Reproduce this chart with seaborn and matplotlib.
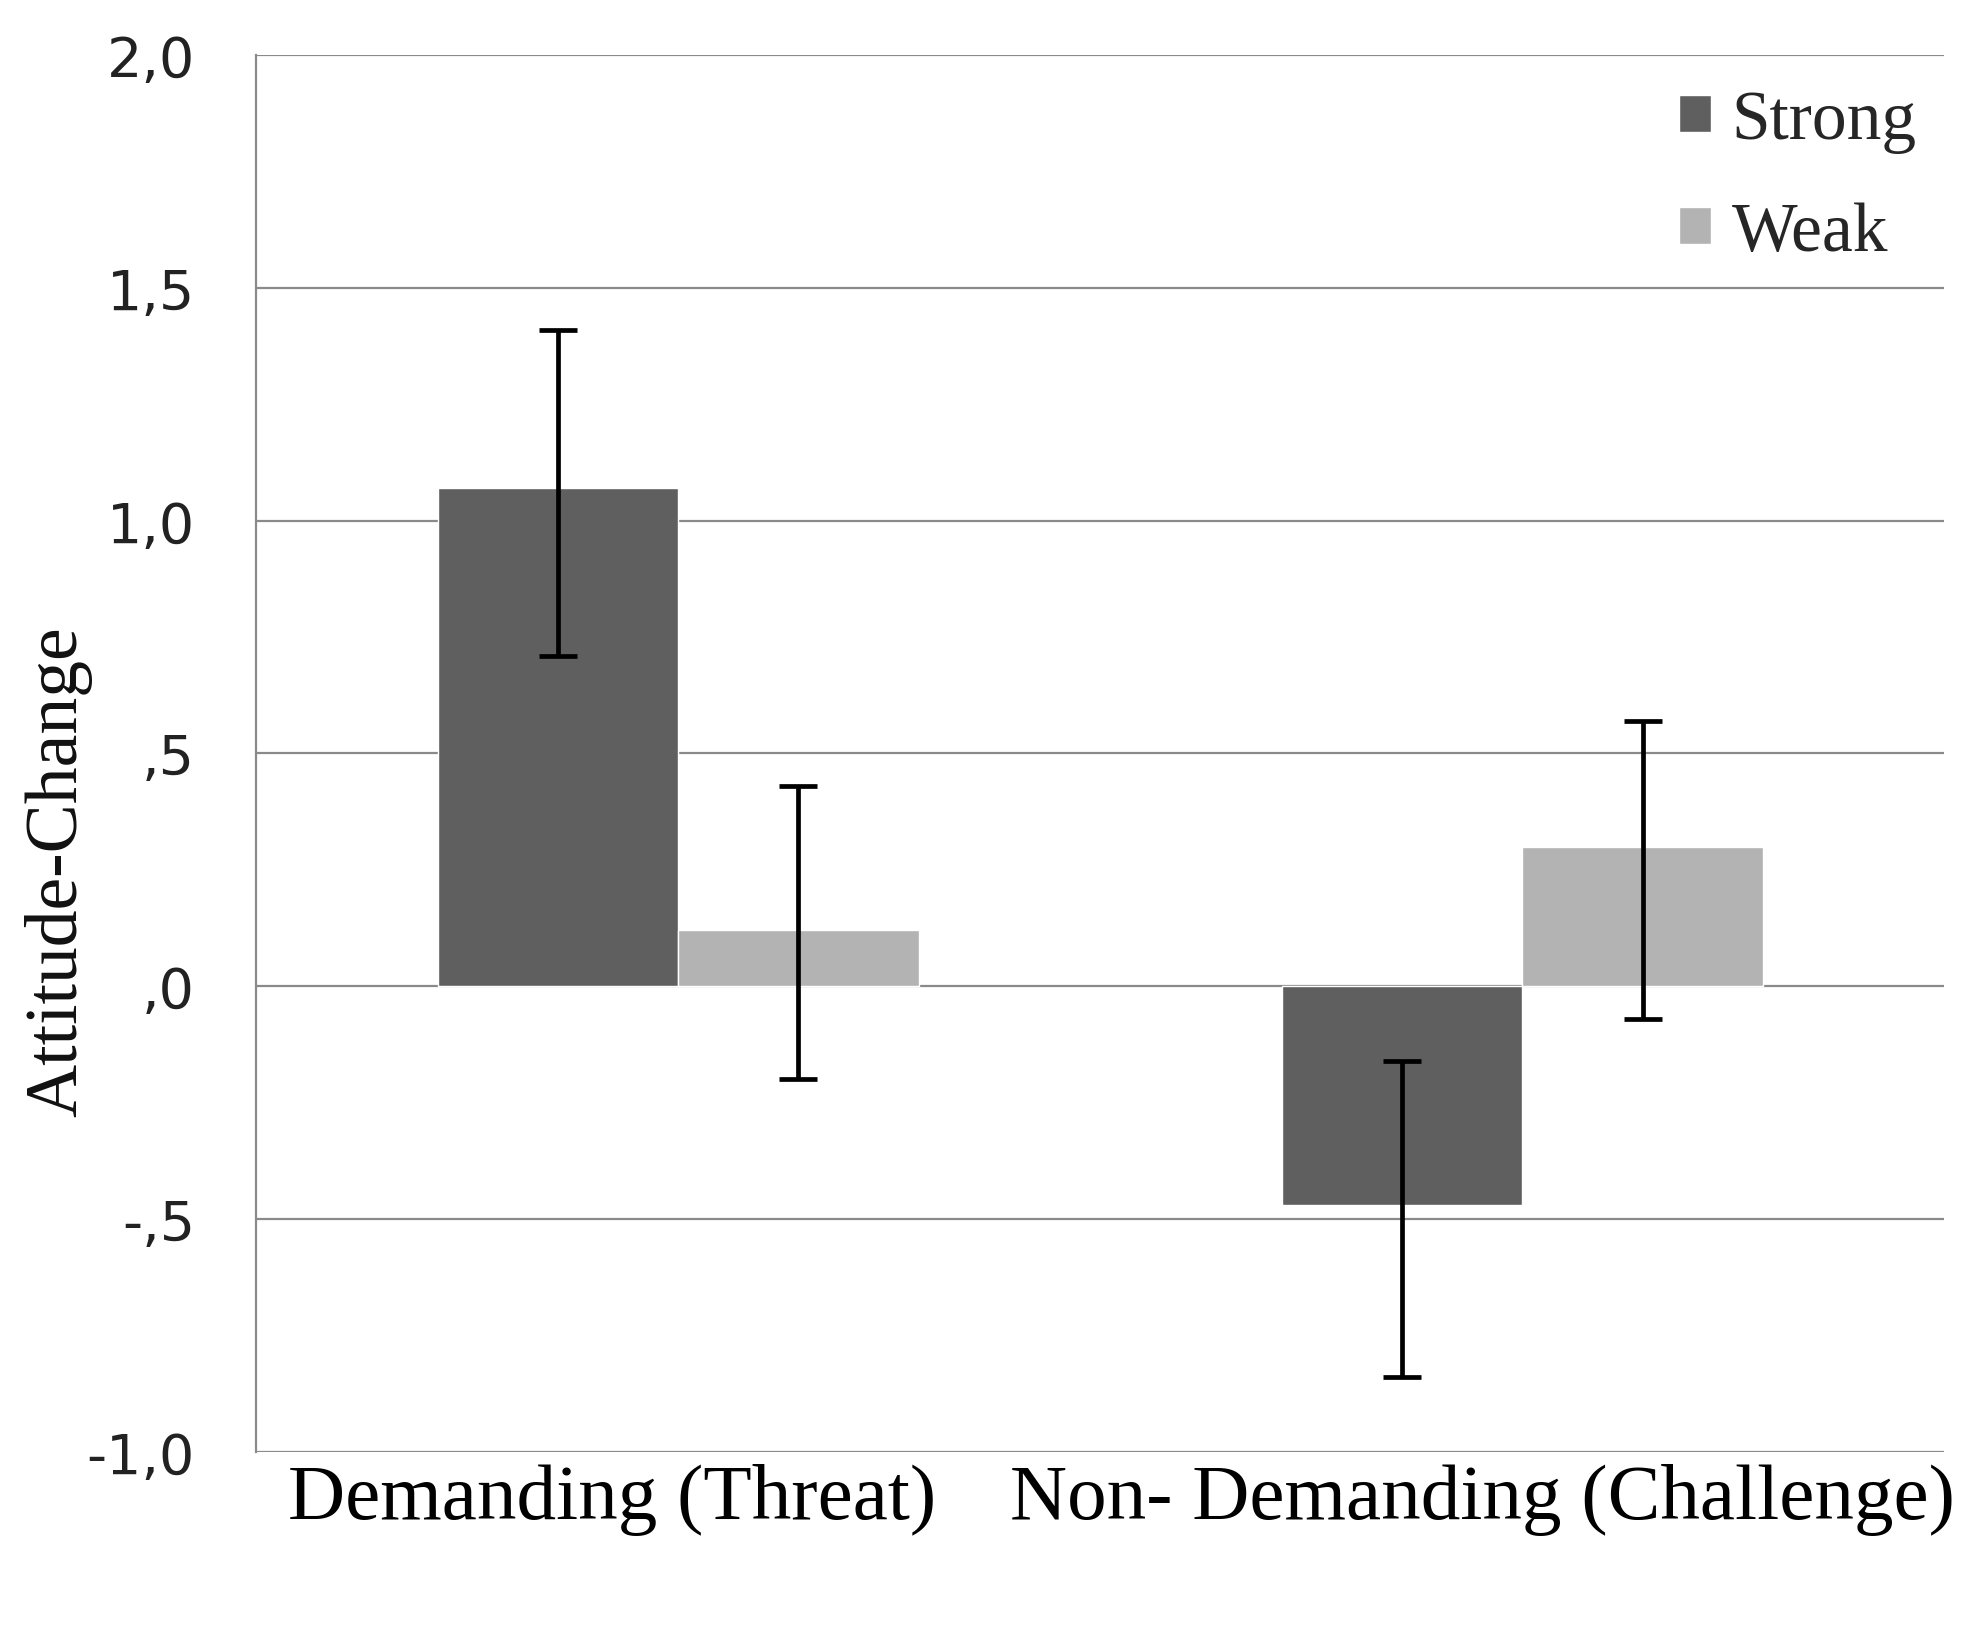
import numpy as np
import pandas as pd
import matplotlib
matplotlib.use("Agg")
import matplotlib.pyplot as plt
import matplotlib.transforms as mtransforms
import seaborn as sns

# valeurs
conditions = ["Demanding (Threat)", "Non- Demanding (Challenge)"]
arguments = ["Strong", "Weak"]
strong_mean = [1.07, -0.47]
weak_mean = [0.12, 0.30]
strong_ci_low = [0.71, -0.84]
strong_ci_high = [1.41, -0.16]
weak_ci_low = [-0.20, -0.07]
weak_ci_high = [0.43, 0.57]
yticks = [-1.0, -0.5, 0.0, 0.5, 1.0, 1.5, 2.0]
ytick_labels = ["-1,0", "-,5", ",0", ",5", "1,0", "1,5", "2,0"]

df = pd.DataFrame({
    "condition": conditions * 2,
    "argument": ["Strong"] * 2 + ["Weak"] * 2,
    "value": strong_mean + weak_mean,
})

sns.set_style("white")
plt.rcParams["font.family"] = ["Liberation Serif", "DejaVu Serif"]

fig = plt.figure(figsize=(19.7, 16.49), dpi=100)
ax = fig.add_axes([0.130, 0.119, 0.857, 0.847])

grid_col = "#8a8a8a"
for y in yticks:
    ax.axhline(y, color=grid_col, lw=1.6, zorder=0)

sns.barplot(data=df, x="condition", y="value", hue="argument",
            hue_order=arguments, order=conditions,
            palette=["#5f5f5f", "#b3b3b3"], saturation=1,
            width=0.57, errorbar=None, ax=ax, zorder=2)

lows = [strong_ci_low, weak_ci_low]
highs = [strong_ci_high, weak_ci_high]
means = [strong_mean, weak_mean]
bar_containers = list(ax.containers)
for k, cont in enumerate(bar_containers):
    for i, bar in enumerate(cont):
        xc = bar.get_x() + bar.get_width() / 2
        m = means[k][i]
        ax.errorbar(xc, m, yerr=[[m - lows[k][i]], [highs[k][i] - m]],
                    fmt="none", ecolor="black", elinewidth=3.4,
                    capsize=14, capthick=3.4, zorder=4)

ax.set_xlim(-0.5, 1.5)
ax.set_ylim(-1.0, 2.0)
ax.set_yticks(yticks)
ax.set_yticklabels(ytick_labels, fontfamily="DejaVu Sans", fontsize=40,
                   color="#222222")
ax.tick_params(axis="y", length=18, width=1.6, color=grid_col, pad=26)
ax.tick_params(axis="x", length=0, labelsize=57, pad=8, labelcolor="black")

# décalage horizontal des étiquettes comme sur l'original
shifts = [-66, -40]
for lab, dx in zip(ax.get_xticklabels(), shifts):
    off = mtransforms.ScaledTranslation(dx / 100, 0, fig.dpi_scale_trans)
    lab.set_transform(lab.get_transform() + off)

for s in ["top", "right", "bottom"]:
    ax.spines[s].set_visible(False)
ax.spines["left"].set_color(grid_col)
ax.spines["left"].set_linewidth(1.6)

ax.set_xlabel("")
ax.set_ylabel("Attitude-Change", fontsize=53, color="#111111")
ax.yaxis.set_label_coords(-0.097, 0.416)

leg = ax.legend(loc="upper right", frameon=False, fontsize=50,
                handlelength=0.45, handleheight=0.45, handletextpad=0.3,
                labelspacing=0.7, borderaxespad=0.0,
                bbox_to_anchor=(1.0, 0.995))

fig.savefig("out.png", dpi=100, facecolor="white")
